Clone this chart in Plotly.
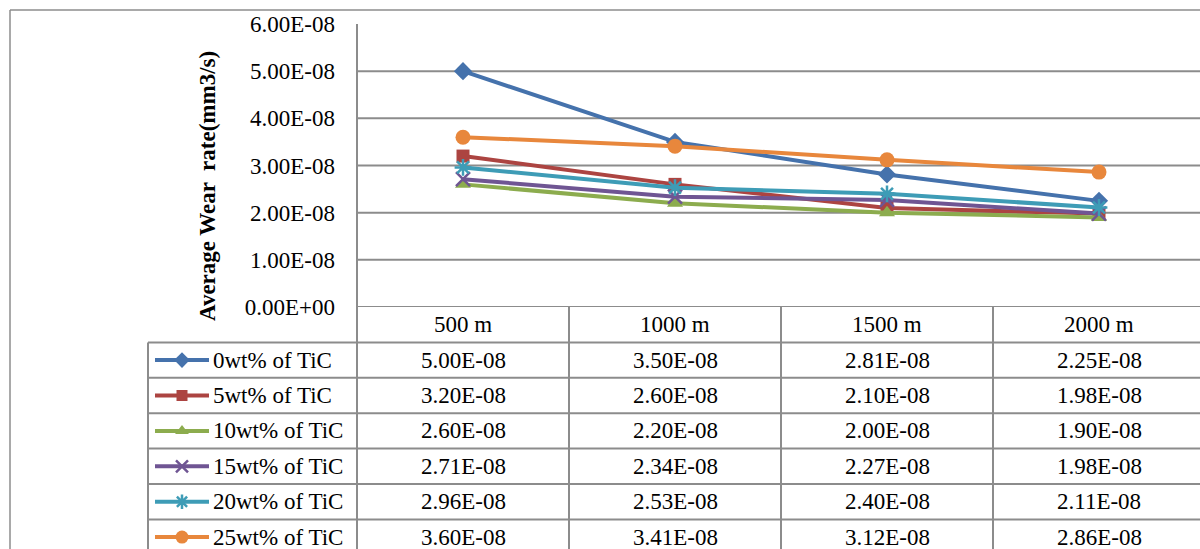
import plotly.graph_objects as go

# ---------------- data ----------------
categories = ["500 m", "1000 m", "1500 m", "2000 m"]
series_names = ["0wt% of TiC", "5wt% of TiC", "10wt% of TiC",
                "15wt% of TiC", "20wt% of TiC", "25wt% of TiC"]
s0 = [5.00e-08, 3.50e-08, 2.81e-08, 2.25e-08]
s5 = [3.20e-08, 2.60e-08, 2.10e-08, 1.98e-08]
s10 = [2.60e-08, 2.20e-08, 2.00e-08, 1.90e-08]
s15 = [2.71e-08, 2.34e-08, 2.27e-08, 1.98e-08]
s20 = [2.96e-08, 2.53e-08, 2.40e-08, 2.11e-08]
s25 = [3.60e-08, 3.41e-08, 3.12e-08, 2.86e-08]
series_values = [s0, s5, s10, s15, s20, s25]
y_ticks = [0, 1e-08, 2e-08, 3e-08, 4e-08, 5e-08, 6e-08]
y_title = "Average Wear  rate(mm3/s)"

# ---------------- styling ----------------
W, H = 1200, 549
colors = ["#4572AC", "#AC4441", "#8CAC4E", "#6F5593", "#3E9CB6", "#E8873C"]
symbols = ["diamond", "square", "triangle-up", "x-thin-open", "asterisk-open", "circle"]
msizes = [14, 13, 14, 14, 14, 15]
FONT = "Liberation Serif, Times New Roman, serif"
FS = 23
GRID = "#8C8C8C"

ax_left, ax_top, ax_bottom = 357, 24, 307
colw = 212.0
table_left = 148
row_h = 35.4
header_bottom = ax_bottom + row_h

def px(x):
    return x / W

def py(y):
    return (H - y) / H

x_range = [-0.5, -0.5 + (W - ax_left) / colw]

fig = go.Figure()
xs = list(range(len(categories)))
for name, vals, c, sym, ms in zip(series_names, series_values, colors, symbols, msizes):
    open_sym = sym.endswith("open")
    fig.add_trace(go.Scatter(
        x=xs, y=vals, mode="lines+markers", name=name,
        line=dict(color=c, width=4),
        marker=dict(symbol=sym, size=ms, color=c,
                    line=dict(color=c, width=2.5 if open_sym else 0)),
        xaxis="x", yaxis="y", showlegend=False, cliponaxis=False,
    ))

shapes = []
annotations = []

for v in y_ticks[:-1]:
    shapes.append(dict(type="line", xref="paper", yref="y",
                       x0=px(ax_left), x1=1.0, y0=v, y1=v,
                       line=dict(color=GRID, width=2), layer="below"))
shapes.append(dict(type="line", xref="paper", yref="paper",
                   x0=px(ax_left), x1=px(ax_left), y0=py(ax_top), y1=py(H + 5),
                   line=dict(color=GRID, width=2)))
for i in range(len(categories) - 1):
    shapes.append(dict(type="line", xref="x", yref="paper",
                       x0=i + 0.5, x1=i + 0.5, y0=py(ax_bottom), y1=py(H + 5),
                       line=dict(color=GRID, width=2)))
for r in range(len(series_names)):
    yy = header_bottom + r * row_h
    shapes.append(dict(type="line", xref="paper", yref="paper",
                       x0=px(table_left), x1=1.0, y0=py(yy), y1=py(yy),
                       line=dict(color=GRID, width=2)))
shapes.append(dict(type="line", xref="paper", yref="paper",
                   x0=px(table_left), x1=px(table_left), y0=py(header_bottom), y1=py(H + 5),
                   line=dict(color=GRID, width=2)))
shapes.append(dict(type="line", xref="paper", yref="paper",
                   x0=px(10), x1=px(10), y0=py(10), y1=py(H + 5),
                   line=dict(color=GRID, width=1.5)))
shapes.append(dict(type="line", xref="paper", yref="paper",
                   x0=px(10), x1=1.0, y0=py(10), y1=py(10),
                   line=dict(color=GRID, width=1.5)))

for i, cat in enumerate(categories):
    annotations.append(dict(x=i, y=py(ax_bottom + row_h / 2), xref="x", yref="paper",
                            text=cat, showarrow=False, xanchor="center", yanchor="middle",
                            font=dict(family=FONT, size=FS, color="black")))
for r, (name, vals) in enumerate(zip(series_names, series_values)):
    yc = header_bottom + r * row_h + row_h / 2
    for i, v in enumerate(vals):
        annotations.append(dict(x=i, y=py(yc), xref="x", yref="paper",
                                text=f"{v:.2E}", showarrow=False,
                                xanchor="center", yanchor="middle",
                                font=dict(family=FONT, size=FS, color="black")))
    annotations.append(dict(x=px(211), y=py(yc), xref="paper", yref="paper",
                            text=name, showarrow=False, xanchor="left", yanchor="middle",
                            font=dict(family=FONT, size=FS, color="black")))
    c = colors[r]
    sym = symbols[r]
    open_sym = sym.endswith("open")
    fig.add_trace(go.Scatter(x=[155, 209], y=[yc, yc], mode="lines",
                             line=dict(color=c, width=4), xaxis="x2", yaxis="y2",
                             showlegend=False, hoverinfo="skip"))
    fig.add_trace(go.Scatter(x=[182], y=[yc], mode="markers",
                             marker=dict(symbol=sym, size=msizes[r] - 2, color=c,
                                         line=dict(color=c, width=2.5 if open_sym else 0)),
                             xaxis="x2", yaxis="y2", showlegend=False, hoverinfo="skip"))

annotations.append(dict(x=px(207), y=py(186), xref="paper", yref="paper",
                        text=f"<b>{y_title}</b>", showarrow=False, textangle=-90,
                        xanchor="center", yanchor="middle",
                        font=dict(family=FONT, size=FS, color="black")))

fig.update_layout(
    width=W, height=H,
    margin=dict(l=0, r=0, t=0, b=0, pad=0, autoexpand=False),
    paper_bgcolor="white", plot_bgcolor="rgba(0,0,0,0)",
    showlegend=False,
    xaxis=dict(domain=[px(ax_left), 1.0], range=x_range, showgrid=False, automargin=False,
               showticklabels=False, zeroline=False, showline=False, ticks=""),
    yaxis=dict(domain=[py(ax_bottom), py(ax_top)], range=[0, y_ticks[-1]], automargin=False,
               tickvals=y_ticks, ticktext=[f"{v:.2E}" for v in y_ticks],
               showgrid=False, zeroline=False, showline=False, ticks="",
               ticklabelstandoff=21,
               tickfont=dict(family=FONT, size=FS, color="black")),
    xaxis2=dict(domain=[0, 1], range=[0, W], visible=False, anchor="y2", automargin=False),
    yaxis2=dict(domain=[0, 1], range=[H, 0], visible=False, anchor="x2", automargin=False),
    shapes=shapes,
    annotations=annotations,
)

fig.write_html("out.html", config={"displayModeBar": False},
               post_script="document.body.style.margin='0';")
